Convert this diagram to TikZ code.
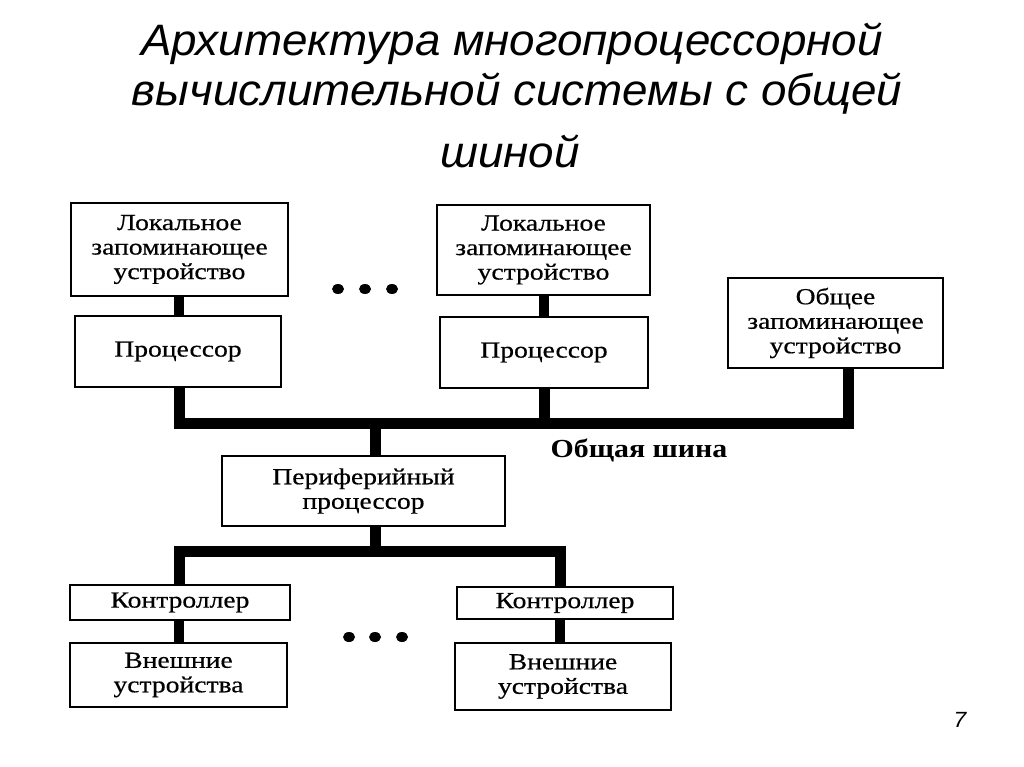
\documentclass[tikz,border=0pt]{standalone}
\usepackage{fontspec}
\setmainfont{Liberation Serif}
\newfontfamily\titlefont[FakeStretch=1.04]{Liberation Sans}
\newfontfamily\boxfont[FakeStretch=1.2,FakeBold=0.5]{Liberation Serif}
\newfontfamily\labelfont[FakeStretch=1.15]{Liberation Serif}
\usetikzlibrary{calc}
\tikzset{
  box/.style={draw, line width=2.2pt, inner sep=0pt, align=center,
    font=\boxfont\fontsize{23}{24.5}\selectfont},
  bus/.style={line width=11pt, line join=miter},
  link/.style={line width=10pt},
  ttl/.style={anchor=base, inner sep=0pt, font=\titlefont\itshape\fontsize{44}{48}\selectfont},
  dot/.style={fill=black},
}
\begin{document}
\begin{tikzpicture}[x=1pt,y=-1pt]
\useasboundingbox[fill=white] (0,0) rectangle (1024,767);
% title
\node[ttl] (t1) at (512,56) {Архитектура многопроцессорной};
\node[ttl] (t2) at (517,106) {вычислительной системы с общей};
\node[ttl] (t3) at (510,168) {шиной};
% boxes
\node[box, minimum width=217pt, minimum height=93pt] (loc1) at (179.5,249.5) {Локальное\\запоминающее\\устройство};
\node[box, minimum width=206pt, minimum height=71pt] (p1) at (178,351.5) {Процессор};
\node[box, minimum width=213pt, minimum height=90pt] (loc2) at (543.5,250) {Локальное\\запоминающее\\устройство};
\node[box, minimum width=208pt, minimum height=71pt] (p2) at (544,352.5) {Процессор};
\node[box, minimum width=215pt, minimum height=90pt] (cm) at (835.5,323) {Общее\\запоминающее\\устройство};
\node[box, minimum width=283pt, minimum height=70pt] (pp) at (363.5,491) {Периферийный\\процессор};
\node[box, minimum width=220pt, minimum height=35pt] (c1) at (180,602.5) {Контроллер};
\node[box, minimum width=217pt, minimum height=64pt] (e1) at (178.5,675) {Внешние\\устройства};
\node[box, minimum width=216pt, minimum height=32pt] (c2) at (565,603) {Контроллер};
\node[box, minimum width=216pt, minimum height=67pt] (e2) at (563,676.5) {Внешние\\устройства};
% bus label
\node[anchor=base, inner sep=0pt, font=\labelfont\bfseries\fontsize{26}{28}\selectfont] (busl) at (639,457) {Общая шина};
% junction coordinates
\coordinate (bl) at (179,423);
\coordinate (br) at (848,423);
\coordinate (bp2) at (544,423);
\coordinate (bpp) at (375,423);
\coordinate (sl) at (179,551);
\coordinate (sr) at (560,551);
\coordinate (spp) at (375,551);
% connectors
\draw[link] (loc1.south -| bl) -- (p1.north -| bl);
\draw[link] (loc2.south -| bp2) -- (p2.north -| bp2);
\draw[bus] (p1.south -| bl) -- (bl) -- (br) -- (cm.south -| br);
\draw[bus] (p2.south -| bp2) -- (bp2);
\draw[bus] (bpp) -- (pp.north -| bpp);
\draw[bus] (pp.south -| spp) -- (spp);
\draw[bus] (c1.north -| sl) -- (sl) -- (sr) -- (c2.north -| sr);
\draw[link] (c1.south -| sl) -- (e1.north -| sl);
\draw[link] (c2.south -| sr) -- (e2.north -| sr);
% dots
\fill[dot] (338,289) ellipse (6pt and 5pt);
\fill[dot] (365,289) ellipse (6pt and 5pt);
\fill[dot] (392,289) ellipse (6pt and 5pt);
\fill[dot] (349,637) ellipse (6pt and 5pt);
\fill[dot] (375,637) ellipse (6pt and 5pt);
\fill[dot] (402,637) ellipse (6pt and 5pt);
% page number
\node[inner sep=0pt, font=\titlefont\itshape\fontsize{22}{24}\selectfont] (pg) at (960,720) {7};
\end{tikzpicture}
\end{document}
